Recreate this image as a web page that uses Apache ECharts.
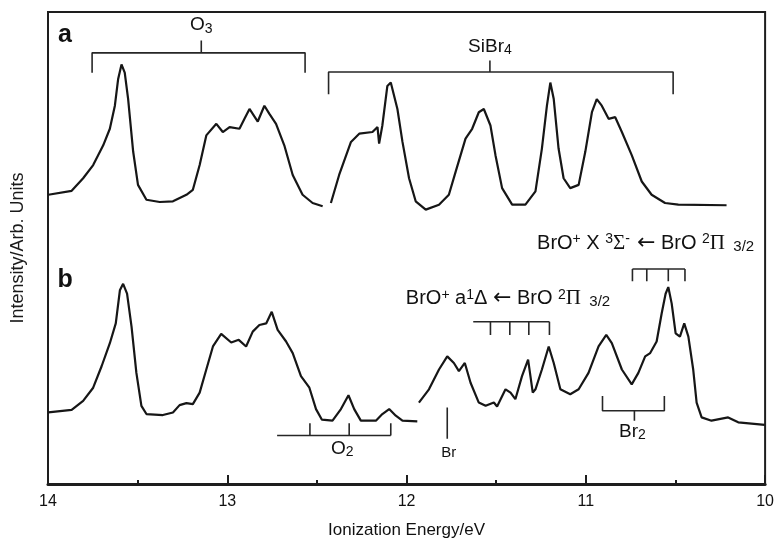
<!DOCTYPE html>
<html>
<head>
<meta charset="utf-8">
<script src="https://cdn.jsdelivr.net/npm/echarts@6/dist/echarts.min.js"></script>
<style>html,body{margin:0;padding:0;background:#fff}#c{width:777px;height:544px}</style>
</head>
<body>
<div id="c"></div>
<script>
// ---- Spectrum (a): two segments ----
const traceA1_eV = [13.998,13.868,13.804,13.748,13.692,13.655,13.627,13.609,13.590,13.572,13.553,13.525,13.498,13.451,13.377,13.303,13.228,13.192,13.154,13.117,13.061,13.025,12.987,12.932,12.904,12.876,12.830,12.793,12.765,12.728,12.682,12.635,12.580,12.524,12.468];
const traceA1_int = [292.3,296.3,309,322.3,342.3,359,382.3,409,424,415.7,389,336,302.3,287.3,285,285.7,292.3,297.3,322.3,352.3,364,355.7,360.7,359,369,379,366.3,382.3,374,364,342.3,312.3,292.3,284,280.7];
const traceA2_eV = [12.422,12.376,12.310,12.264,12.190,12.162,12.153,12.135,12.107,12.088,12.051,12.023,11.986,11.949,11.893,11.819,11.764,11.726,11.671,11.634,11.597,11.569,11.532,11.504,11.467,11.411,11.337,11.281,11.245,11.217,11.198,11.179,11.152,11.124,11.087,11.040,11.003,10.966,10.939,10.911,10.873,10.836,10.799,10.744,10.688,10.633,10.558,10.484,10.215];
const traceA2_int = [284,312.3,345.7,354,355.7,360.7,344,362.3,402.3,405.7,379,346,309,285.7,277.3,282.3,292.3,315.7,349,359,375.7,379,362.3,332.3,299,282.3,282.3,295.7,339,382.3,405.7,389,339,309,299,302.3,335.7,375.7,389,382.3,369,370.7,355.7,332.3,305.7,292.3,284,282.3,281.7];
// ---- Spectrum (b): two segments ----
const traceB1_eV = [13.998,13.868,13.804,13.748,13.701,13.655,13.622,13.599,13.581,13.559,13.534,13.507,13.479,13.451,13.359,13.303,13.266,13.228,13.192,13.154,13.117,13.080,13.034,12.978,12.936,12.895,12.858,12.821,12.783,12.752,12.719,12.672,12.635,12.589,12.542,12.505,12.472,12.413,12.366,12.324,12.292,12.255,12.171,12.135,12.097,12.060,12.023,11.940];
const traceB1_int = [72.3,75,84,97.3,119,142.3,162.3,195.7,202.3,192.3,159,112.3,79,70.7,69.7,72.3,79.7,81.7,80.7,92.3,115.7,139,151.7,143,145.7,139,154,160.7,162.3,174,155.7,144,132.3,109,97.3,75.7,65,64,75.7,89.7,75.7,64,64,70.7,75.7,69,64,63.3];
const traceB2_eV = [11.931,11.875,11.819,11.773,11.736,11.708,11.675,11.643,11.597,11.559,11.513,11.495,11.448,11.420,11.393,11.356,11.322,11.296,11.281,11.245,11.207,11.179,11.142,11.087,11.040,10.985,10.929,10.886,10.855,10.799,10.744,10.707,10.669,10.641,10.605,10.577,10.555,10.540,10.521,10.499,10.475,10.451,10.428,10.401,10.382,10.354,10.299,10.206,10.150,10.002];
const traceB2_int = [82.3,95.7,115.7,129,122.3,114,122.3,102.3,82.3,79,82.3,78.3,95.7,92.3,85.7,109,125.7,92.3,95.7,115.7,139,122.3,95.7,90.7,95.7,112.3,139,150.7,142.3,115.7,100.7,112.3,129,132.3,144,172.3,192.3,199,182.3,152.3,149,162.3,149,115.7,82.3,67.3,64,67.3,62.3,59.7];

// ---- Axis ----
const xTickValues = [14,13,12,11,10];

// ---- Assignment brackets (polylines in eV / intensity) ----
const bracketO3 = [[[13.754,415.7],[13.754,435.7],[12.566,435.7],[12.566,415.7]],[[13.145,435.7],[13.145,448.3]]];
const bracketSiBr4 = [[[12.435,394],[12.435,416.3],[10.513,416.3],[10.513,394]],[[11.535,416.3],[11.535,428]]];
const bracketO2 = [[[12.722,49],[12.088,49]],[[12.539,49],[12.539,61.3]],[[12.320,49],[12.320,61.3]],[[12.088,49],[12.088,61.3]]];
const bracketBr = [[[11.773,45.7],[11.773,77.3]]];
const bracketBr2 = [[[10.907,89],[10.907,74],[10.562,74],[10.562,89]],[[10.729,74],[10.729,64]]];
const bracketBrOa = [[[11.628,164],[11.203,164]],[[11.532,164],[11.532,150.7]],[[11.424,164],[11.424,150.7]],[[11.318,164],[11.318,150.7]],[[11.203,164],[11.203,150.7]]];
const bracketBrOX = [[[10.740,217.3],[10.447,217.3]],[[10.740,217.3],[10.740,205]],[[10.660,217.3],[10.660,205]],[[10.540,217.3],[10.540,205]],[[10.447,217.3],[10.447,205]]];

// ---- Text annotations ----
const labelTexts = ['{bold|a}','{bold|b}','{t|O}{sub|3}','{t|SiBr}{sub|4}','{t|O}{sub|2}','{s|Br}','{t|Br}{sub|2}',
  '{L|BrO}{sup|+}{L| a}{sup|1}{L|Δ }{arr|←}{L| BrO }{sup|2}{g|Π}{sub2|  3/2}',
  '{L|BrO}{sup|+}{L| X }{sup|3}{g|Σ}{sup|-}{arr| ←}{L| BrO }{sup|2}{g|Π}{sub2|  3/2}'];
const labelPos = [[13.905,454],[13.905,206],[13.145,464],[11.535,442],[12.359,36],[11.764,31],[10.740,53],[12.004,187.3],[11.272,243]];
const labelAlign = ['center','center','center','center','center','center','center','left','left'];

const chart = echarts.init(document.getElementById('c'), null, {renderer:'canvas'});
const INK = '#111111';
const FONT = '"Liberation Sans", Arial, sans-serif';
const zip = (xs, ys) => xs.map((x,i)=>[x, ys[i]]);

const series = [];
[[traceA1_eV,traceA1_int],[traceA2_eV,traceA2_int],[traceB1_eV,traceB1_int],[traceB2_eV,traceB2_int]].forEach(([xs,ys])=>{
  series.push({type:'line', data:zip(xs,ys), showSymbol:false, smooth:false, silent:true,
    lineStyle:{color:'#161616', width:2.2}, z:3});
});
[bracketO3,bracketSiBr4,bracketO2,bracketBr,bracketBr2,bracketBrOa,bracketBrOX].forEach(b=>{
  b.forEach(poly=>{
    series.push({type:'line', data:poly, showSymbol:false, silent:true,
      lineStyle:{color:'#262626', width:1.6}, z:2});
  });
});
const base = {color:INK, textBorderWidth:0, fontFamily:FONT, opacity:1};
const rich = {
  t:Object.assign({fontSize:19, lineHeight:22, verticalAlign:'middle'}, base),
  L:Object.assign({fontSize:20, lineHeight:22, verticalAlign:'middle'}, base),
  s:Object.assign({fontSize:15, lineHeight:22, verticalAlign:'middle'}, base),
  arr:Object.assign({}, base, {fontSize:22, lineHeight:22, verticalAlign:'middle', fontFamily:'"DejaVu Sans", sans-serif'}),
  g:Object.assign({}, base, {fontSize:21, lineHeight:22, verticalAlign:'middle', fontFamily:'"Liberation Serif", serif'}),
  bold:Object.assign({fontSize:25, fontWeight:'bold', lineHeight:26, verticalAlign:'middle'}, base),
  sub:Object.assign({fontSize:14, lineHeight:8, verticalAlign:'bottom'}, base),
  sub2:Object.assign({fontSize:15, lineHeight:2, verticalAlign:'bottom'}, base),
  sup:Object.assign({fontSize:14, lineHeight:14, verticalAlign:'top'}, base)
};
series.push({type:'scatter', symbolSize:0, silent:true, z:4, itemStyle:{opacity:1},
  data: labelPos.map((p,i)=>({value:p, label:{show:true, position:[0,0], align:labelAlign[i], verticalAlign:'middle',
    color:INK, opacity:1, textBorderWidth:0, formatter:labelTexts[i], rich:rich}}))
});

chart.setOption({
  animation:false,
  grid:{left:48, right:10, top:12, bottom:55, show:true, borderColor:'#1e1e1e', borderWidth:2},
  xAxis:{type:'value', min:10, max:14, interval:1, inverse:true,
    axisLine:{show:true, onZero:false, lineStyle:{color:'#1e1e1e', width:3}},
    axisTick:{show:true, inside:true, length:9, lineStyle:{color:'#1e1e1e', width:2}},
    minorTick:{show:true, splitNumber:2, length:4, lineStyle:{color:'#1e1e1e', width:2}},
    splitLine:{show:false}, minorSplitLine:{show:false},
    axisLabel:{fontSize:16, color:'#111', fontFamily:FONT, margin:10,
      formatter:v=> xTickValues.includes(v) ? String(v) : ''},
    name:'Ionization Energy/eV', nameLocation:'middle', nameGap:38,
    nameTextStyle:{fontSize:17, color:'#111', fontFamily:FONT}
  },
  yAxis:{type:'value', min:0, max:477,
    axisLine:{show:true, lineStyle:{color:'#1e1e1e', width:2}},
    axisTick:{show:false}, axisLabel:{show:false}, splitLine:{show:false},
    name:'Intensity/Arb. Units', nameLocation:'middle', nameGap:21,
    nameTextStyle:{fontSize:18, color:'#1a1a1a', fontFamily:FONT}
  },
  series: series
});
</script>
</body>
</html>
